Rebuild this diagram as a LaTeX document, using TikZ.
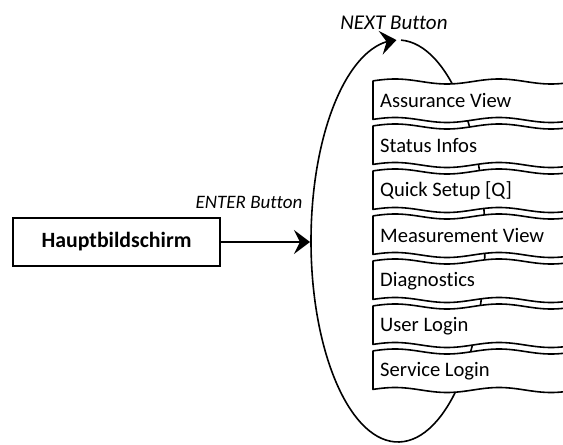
\documentclass[tikz,border=0pt]{standalone}
\usepackage{fontspec}
\setmainfont{Carlito}[Ligatures=NoCommon]
\usetikzlibrary{arrows.meta,bending}
\begin{document}
\begin{tikzpicture}[x=1pt,y=1pt,
  stroke/.style={line width=1.6pt},
  bigtip/.style={-{Stealth[length=16pt,width=24pt,inset=6pt]}},
  menutext/.style={anchor=west, inner sep=0pt, font=\fontsize{20.6}{24}\selectfont},
  btnlabel/.style={font=\itshape, inner sep=0pt},
]
\useasboundingbox (0,0) rectangle (563,445);
% loop (NEXT cycle)
\draw[stroke, bigtip] (401.04,404.88) arc[start angle=88, end angle=-269, x radius=87pt, y radius=201pt];
% menu entries
\foreach \k/\t in {0/Assurance View, 1/Status Infos, 2/Quick Setup [Q], 3/Measurement View, 4/Diagnostics, 5/User Login, 6/Service Login}{
  \pgfmathsetmacro{\T}{363.5-45*\k}
  \pgfmathsetmacro{\B}{\T-38.5}
  \draw[stroke, fill=white, line join=round]
    plot[domain=373:600, samples=90] (\x, {\T - 2.5*cos(3.4615*(\x-447))})
    -- plot[domain=600:373, samples=90] (\x, {\B - 2.5*cos(3.4615*(\x-447))})
    -- cycle;
  \node[menutext] (m\k) at (380, \T-19.25) {\t};
}
% main screen
\node[draw, stroke, minimum width=207pt, minimum height=48pt, inner sep=0pt,
      font=\bfseries\fontsize{21.8}{26}\selectfont] (haupt) at (116.5,203) {Hauptbildschirm};
\coordinate (loopin) at (310,203);
\draw[stroke, bigtip] (haupt.east) -- (loopin);
% labels
\node[btnlabel, anchor=east, font=\fontsize{19}{22}\selectfont\itshape] (enterlbl) at (302.5,243) {ENTER Button};
\node[btnlabel, font=\fontsize{21}{24}\selectfont\itshape] (nextlbl) at (394,422) {NEXT Button};
\end{tikzpicture}
\end{document}
